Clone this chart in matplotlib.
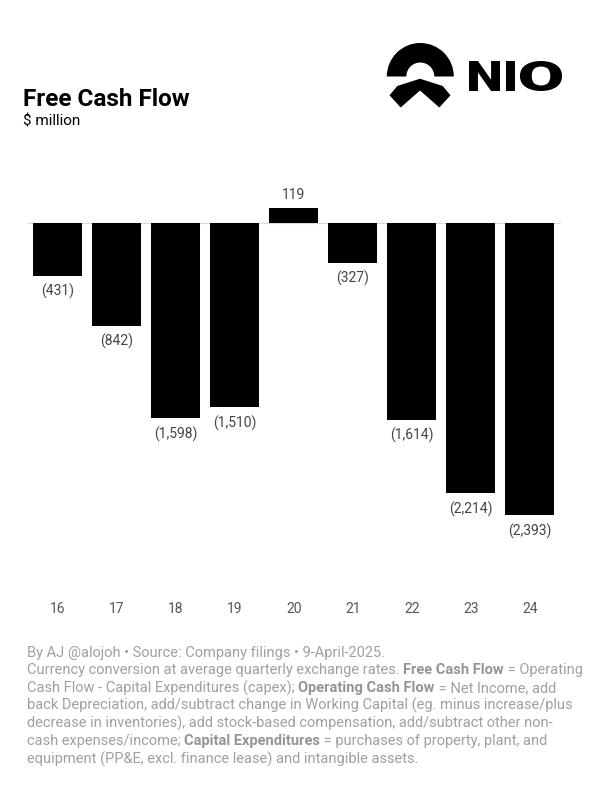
import matplotlib
matplotlib.use('Agg')
import matplotlib.pyplot as plt
from matplotlib.patches import Wedge, Polygon, PathPatch
from matplotlib.textpath import TextPath
from matplotlib.font_manager import FontProperties
from matplotlib.transforms import Affine2D

plt.rcParams['font.family'] = ['Roboto', 'DejaVu Sans']

# data (fiscal years, $ million)
years = ['16', '17', '18', '19', '20', '21', '22', '23', '24']
fcf = [-431, -842, -1598, -1510, 119, -327, -1614, -2214, -2393]

title = 'Free Cash Flow'
subtitle = '$ million'
footer = [
    [('By AJ @alojoh \u2022 Source: Company filings \u2022 9-April-2025.', 'normal')],
    [('Currency conversion at average quarterly exchange rates. ', 'normal'),
     ('Free Cash Flow', 'bold'), (' = Operating', 'normal')],
    [('Cash Flow - Capital Expenditures (capex); ', 'normal'),
     ('Operating Cash Flow', 'bold'), (' = Net Income, add', 'normal')],
    [('back Depreciation, add/subtract change in Working Capital (eg. minus increase/plus', 'normal')],
    [('decrease in inventories), add stock-based compensation, add/subtract other non-', 'normal')],
    [('cash expenses/income; ', 'normal'), ('Capital Expenditures', 'bold'),
     (' = purchases of property, plant, and', 'normal')],
    [('equipment (PP&E, excl. finance lease) and intangible assets.', 'normal')],
]

W, H = 591, 793
fig = plt.figure(figsize=(W / 100, H / 100), dpi=100)

# overlay in pixel coordinates for titles, logo and notes
ov = fig.add_axes([0, 0, 1, 1], zorder=-1)
ov.set_xlim(0, W)
ov.set_ylim(H, 0)
ov.axis('off')

# main bar chart
ax = fig.add_axes([27.5 / W, 1 - 580 / H, 533 / W, 430 / H])
x = list(range(len(years)))
ax.bar(x, fcf, width=0.83, color='black', zorder=2)
ax.axhline(0, color='#d9d9d9', lw=0.8, zorder=1)
ax.set_xlim(-0.51, 8.52)
ax.set_ylim(-2927, 598)
ax.set_yticks([])
ax.set_xticks(x, years)
ax.tick_params(axis='x', length=0, pad=15.5, labelsize=10, labelcolor='#555555')
for s in ax.spines.values():
    s.set_visible(False)
ax.patch.set_visible(False)

for i, v in enumerate(fcf):
    lab = f'{v:,}' if v >= 0 else f'({-v:,})'
    ax.annotate(lab, (i, v), xytext=(0, 9.5 if v >= 0 else -11.5),
                textcoords='offset points', ha='center', va='center',
                fontsize=10, color='#444444')

# titles
ov.text(23, 106, title, fontsize=17.5, fontweight='bold', va='baseline', color='black')
ov.text(23, 125.5, subtitle, fontsize=11, va='baseline', color='black')

# NIO logo: arc + chevron + letters
ov.add_patch(Wedge((420.3, 76.5), 33.5, 180, 360, width=19.5, color='black', lw=0))
chev = [(420, 78.7), (397.3, 86), (389.5, 95.3), (400.7, 107.5), (420, 90.5),
        (439.3, 107.5), (450.5, 95.3), (442.7, 86)]
ov.add_patch(Polygon(chev, closed=True, color='black', lw=0))

logo_font = FontProperties(family='Roboto', weight='black')
letter_boxes = [('N', 469, 500), ('I', 506, 515), ('O', 520, 562)]
top, bot = 61, 91
for ch, x0, x1 in letter_boxes:
    tp = TextPath((0, 0), ch, size=100, prop=logo_font)
    ext = tp.get_extents()
    tr = (Affine2D().translate(-ext.x0, -ext.y0)
          .scale((x1 - x0) / ext.width, -(bot - top) / ext.height)
          .translate(x0, bot))
    ov.add_patch(PathPatch(tr.transform_path(tp), color='black', lw=0))

# footer notes with bold pieces
renderer = fig.canvas.get_renderer()
y = 656.5
for line in footer:
    xpos = 27
    for txt, wt in line:
        t = ov.text(xpos, y, txt, fontsize=10.5, fontweight=wt, va='baseline',
                    color='#a0a0a0' if wt == 'normal' else '#959595')
        xpos += t.get_window_extent(renderer=renderer).width
    y += 17.8

fig.savefig('out.png', dpi=100)
